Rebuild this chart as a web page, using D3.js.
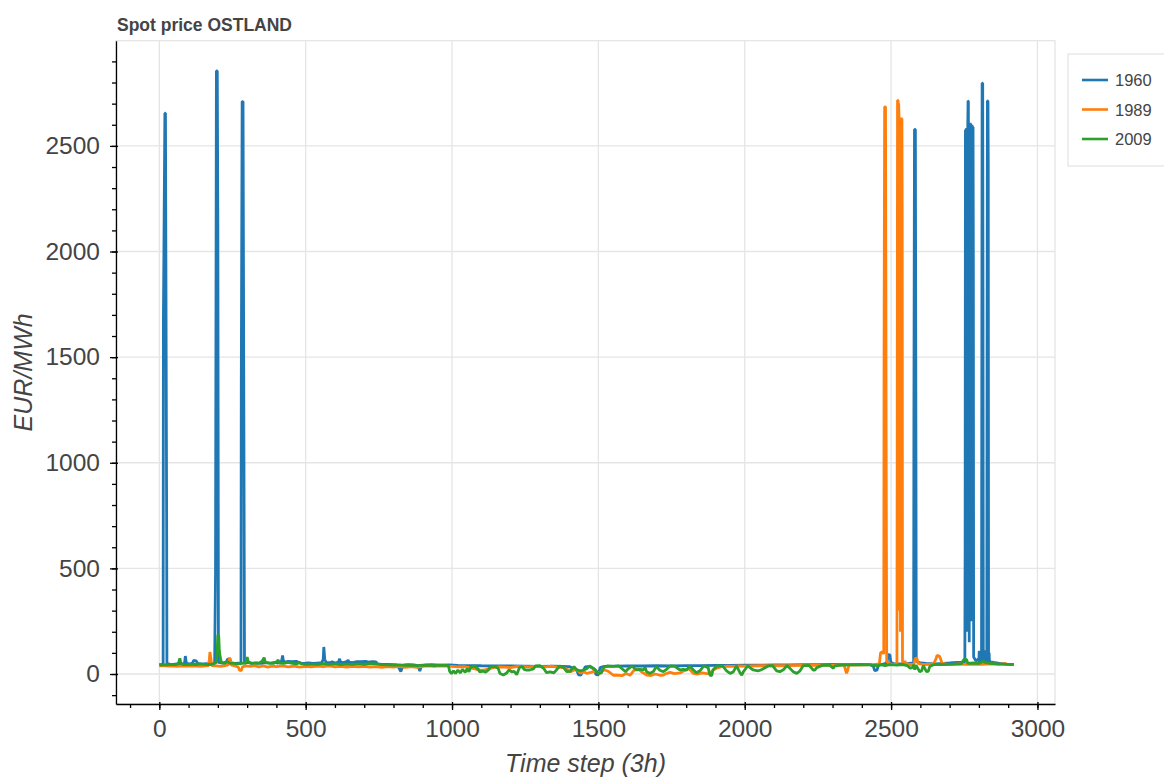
<!DOCTYPE html>
<html>
<head>
<meta charset="utf-8">
<script src="https://cdn.jsdelivr.net/npm/d3@7"></script>
<style>
  body { margin: 0; background: #fff; }
  svg { display: block; font-family: 'Liberation Sans', Arial, Helvetica, sans-serif; }
  .axis .domain, .axis line { stroke: #000; stroke-width: 1.3px; }
  .axis text { fill: #444; font-size: 24.5px; }
  .grid line { stroke: #e5e5e5; stroke-width: 1.3px; }
  .series { fill: none; stroke-width: 2.8px; stroke-linejoin: bevel; }
</style>
</head>
<body>
<svg id="chart" width="1164" height="778"></svg>
<script>
// spot price per 3h time step, [step, EUR/MWh]
const price1960 = [
  [0,44],[8,46],[13,48],[14,1680],[19,2655],[21,2655],[25,750],[26,50],[35,47],[48,45],[60,48],[75,46],[86,50],[89,85],[92,52],
  [104,47],[114,52],[117,64],[126,62],[131,50],[145,47],[160,49],[175,46],[189,50],[192,470],[195,2855],[198,2855],[200,2110],[202,55],
  [215,52],[228,56],[234,72],[238,70],[242,54],[258,50],[270,52],[279,48],[280,1360],[283,2710],[286,2710],[289,1130],[291,52],
  [305,55],[318,50],[332,53],[348,50],[365,54],[380,51],[395,55],[405,52],[418,62],[421,88],[424,62],[432,56],[440,60],[455,58],
  [468,60],[480,52],[495,50],[510,53],[525,50],[540,52],[555,54],[560,70],[562,128],[565,70],[570,55],[585,54],[590,58],[600,52],
  [612,56],[616,72],[619,56],[630,54],[642,60],[645,66],[648,56],[660,54],[672,58],[690,58],[705,60],[715,56],[728,58],[740,57],
  [745,48],[760,46],[780,45],[800,44],[812,43],[818,30],[825,12],[830,30],[836,43],[850,44],[870,43],[884,40],[890,14],[895,38],
  [910,43],[930,44],[960,42],[990,43],[1020,41],[1060,40],[1100,39],[1150,38],[1200,38],[1250,37],[1300,36],[1350,37],[1400,35],
  [1425,22],[1432,-4],[1440,-5],[1448,15],[1455,34],[1470,36],[1485,25],[1492,-3],[1500,-4],[1506,30],[1520,36],[1560,37],[1600,38],
  [1650,38],[1700,39],[1750,38],[1800,40],[1850,40],[1900,41],[1950,41],[2000,42],[2050,42],[2100,43],[2150,43],[2200,44],[2250,44],
  [2300,45],[2350,44],[2400,45],[2430,44],[2440,35],[2444,16],[2452,18],[2456,40],[2470,46],[2482,50],[2487,60],[2489,92],[2496,90],
  [2499,55],[2510,48],[2540,48],[2560,50],[2577,52],[2578,1250],[2580,2578],[2583,2578],[2585,1000],[2586,60],[2600,52],[2620,50],
  [2650,48],[2680,50],[2700,52],[2724,55],[2740,55],[2752,58],
  [2753,600],[2754,2575],[2755,300],[2756,2580],[2757,1200],[2758,2585],[2759,200],[2760,2585],[2761,800],[2762,2590],[2763,2712],
  [2764,2712],[2765,2000],[2766,2605],[2767,150],[2768,2610],[2769,700],[2770,2610],[2771,1500],[2772,2605],[2773,250],[2774,2600],
  [2775,900],[2776,2600],[2777,400],[2778,2595],[2779,1200],[2780,2590],[2781,1970],[2782,80],[2790,62],[2798,70],
  [2800,60],[2801,108],[2802,50],[2803,110],[2804,55],[2805,105],[2806,48],[2807,110],[2808,60],[2809,112],[2810,1500],[2811,2797],
  [2813,2797],[2814,1800],[2815,110],[2816,50],[2817,108],[2818,55],[2819,112],[2820,50],[2821,110],[2822,60],[2823,105],[2824,52],
  [2825,110],[2826,58],[2827,112],[2828,1600],[2829,2713],[2831,2713],[2832,2420],[2833,110],[2834,55],[2835,100],[2836,60],
  [2840,58],[2850,55],[2870,50],[2890,47],[2905,46],[2919,45]
];
const price1989 = [
  [0,38],[15,40],[30,37],[45,39],[60,36],[80,38],[100,37],[120,39],[140,36],[158,38],[168,40],[171,70],[173,104],[176,72],[179,40],
  [195,38],[210,36],[225,40],[236,44],[239,76],[243,70],[246,42],[260,38],[270,32],[274,18],[280,16],[284,34],[295,38],[310,36],
  [325,40],[340,34],[355,38],[370,33],[385,37],[400,35],[420,38],[440,34],[460,37],[480,33],[500,36],[520,34],[540,37],[560,35],
  [580,38],[600,34],[620,36],[640,33],[660,36],[680,34],[700,36],[720,33],[740,35],[760,32],[780,35],[800,33],[820,36],[840,32],
  [860,35],[880,31],[900,36],[920,38],[940,36],[960,38],[980,37],[1000,36],[1020,34],[1040,35],[1060,30],[1085,22],[1095,19],
  [1110,18],[1125,24],[1140,30],[1160,34],[1180,33],[1200,30],[1220,35],[1240,36],[1260,34],[1280,36],[1300,35],[1320,34],[1340,37],
  [1360,33],[1380,30],[1394,22],[1405,10],[1415,18],[1426,19],[1440,4],[1449,12],[1460,3],[1475,8],[1490,15],[1505,3],[1520,20],
  [1535,12],[1551,-6],[1565,-5],[1580,-8],[1595,2],[1608,-6],[1620,15],[1635,25],[1650,8],[1665,-5],[1680,-7],[1695,0],[1710,-6],
  [1722,-5],[1733,3],[1745,8],[1760,2],[1779,5],[1795,18],[1810,25],[1824,3],[1840,0],[1855,5],[1870,2],[1881,3],[1892,19],
  [1905,28],[1920,35],[1940,37],[1960,36],[1980,38],[2000,37],[2050,39],[2100,39],[2150,40],[2200,41],[2250,41],[2300,42],[2340,42],
  [2344,20],[2348,3],[2352,20],[2356,42],[2400,43],[2440,44],[2460,48],[2464,100],[2470,105],[2475,95],[2476,1500],[2478,2685],
  [2481,2685],[2483,1200],[2485,60],[2495,48],[2510,45],[2520,50],
  [2521,1200],[2522,2715],[2524,2715],[2525,400],[2526,2700],[2527,2640],[2528,300],[2529,2635],[2530,1000],[2531,2635],[2532,200],
  [2533,2635],[2534,1500],[2535,2635],[2536,600],[2537,2630],[2538,2200],[2539,60],[2544,55],[2547,62],[2550,48],[2565,45],
  [2578,46],[2582,72],[2588,75],[2592,50],[2610,45],[2630,46],[2645,48],[2653,70],[2657,88],[2665,85],[2670,68],[2674,50],[2690,47],
  [2710,46],[2730,48],[2750,46],[2780,47],[2810,46],[2840,48],[2870,46],[2890,50],[2900,44],[2912,46],[2919,45]
];
const price2009 = [
  [0,42],[12,44],[25,43],[40,46],[55,44],[64,48],[67,58],[70,74],[73,56],[78,46],[95,44],[110,47],[125,45],[140,48],[155,46],
  [170,45],[185,48],[195,55],[198,120],[200,185],[203,180],[205,110],[208,80],[212,55],[222,50],[232,58],[240,52],[255,50],[268,48],
  [282,50],[295,52],[300,80],[304,58],[312,50],[325,52],[340,50],[352,62],[358,78],[362,55],[375,52],[390,50],[402,60],[406,66],
  [410,52],[425,50],[440,55],[455,50],[470,48],[480,56],[485,48],[500,46],[520,47],[540,46],[560,49],[580,46],[600,48],[620,45],
  [640,47],[660,46],[680,48],[700,46],[720,49],[740,48],[760,44],[780,43],[800,42],[820,43],[840,41],[860,42],[880,40],[900,42],
  [920,41],[940,40],[960,42],[980,41],[988,38],[992,12],[998,2],[1005,15],[1012,3],[1020,18],[1028,5],[1036,22],[1045,8],[1052,25],
  [1058,10],[1063,30],[1075,38],[1085,30],[1095,10],[1105,14],[1115,8],[1125,20],[1130,32],[1145,36],[1157,28],[1164,2],[1175,-5],
  [1187,5],[1195,20],[1204,10],[1212,13],[1221,-3],[1230,30],[1240,36],[1246,22],[1255,18],[1265,19],[1278,24],[1285,38],[1300,40],
  [1314,25],[1323,6],[1335,10],[1348,5],[1357,20],[1368,38],[1382,30],[1392,11],[1403,12],[1417,35],[1426,19],[1440,15],[1452,20],
  [1460,25],[1470,38],[1489,20],[1500,3],[1510,5],[1517,30],[1530,38],[1550,36],[1570,38],[1585,20],[1593,11],[1602,25],[1615,37],
  [1630,19],[1642,22],[1653,19],[1660,30],[1665,10],[1676,3],[1688,12],[1698,35],[1710,18],[1722,11],[1733,22],[1745,38],[1760,37],
  [1779,19],[1790,22],[1801,18],[1812,38],[1824,20],[1835,6],[1847,15],[1860,38],[1875,30],[1881,-5],[1887,-8],[1892,20],[1905,38],
  [1925,37],[1938,15],[1950,3],[1961,10],[1972,38],[1984,5],[1990,-5],[1995,10],[2010,38],[2029,19],[2045,15],[2055,19],[2063,25],
  [2080,38],[2095,40],[2109,15],[2120,11],[2132,20],[2145,40],[2166,10],[2178,3],[2189,15],[2200,40],[2220,41],[2234,19],[2240,19],
  [2246,30],[2265,41],[2290,42],[2302,27],[2308,38],[2330,42],[2360,43],[2390,43],[2420,44],[2440,42],[2455,38],[2462,44],[2480,40],
  [2495,44],[2520,42],[2540,44],[2555,40],[2565,28],[2572,30],[2578,44],[2581,20],[2585,42],[2598,11],[2604,14],[2610,40],[2621,11],
  [2627,12],[2632,35],[2645,44],[2660,46],[2680,44],[2700,46],[2720,47],[2740,48],[2747,65],[2752,72],[2758,68],[2762,50],[2780,52],
  [2800,50],[2815,60],[2820,55],[2840,50],[2860,48],[2880,47],[2900,46],[2919,45]
];

const seriesNames = ['1960', '1989', '2009'];
const seriesColors = ['#1f77b4', '#ff7f0e', '#2ca02c'];
const xMajorTicks = [0, 500, 1000, 1500, 2000, 2500, 3000];
const yMajorTicks = [0, 500, 1000, 1500, 2000, 2500];
const xMinorTicks = d3.range(-100, 3001, 100);
const yMinorTicks = d3.range(-100, 2901, 100);

const frame = {left: 116, top: 40.7, right: 1055, bottom: 704};
const svg = d3.select('#chart');

const x = d3.scaleLinear().domain([-148, 3060]).range([frame.left, frame.right]);
const y = d3.scaleLinear().domain([-142, 2998]).range([frame.bottom, frame.top]);
const fmt = d3.format('d');

svg.append('rect').attr('width', 1164).attr('height', 778).attr('fill', '#fff');

// grid + frame outline
const grid = svg.append('g').attr('class', 'grid');
grid.selectAll('.gx').data(xMajorTicks).join('line').attr('class', 'gx')
  .attr('x1', d => x(d)).attr('x2', d => x(d)).attr('y1', frame.top).attr('y2', frame.bottom);
grid.selectAll('.gy').data(yMajorTicks).join('line').attr('class', 'gy')
  .attr('y1', d => y(d)).attr('y2', d => y(d)).attr('x1', frame.left).attr('x2', frame.right);
svg.append('rect')
  .attr('x', frame.left).attr('y', frame.top)
  .attr('width', frame.right - frame.left).attr('height', frame.bottom - frame.top)
  .attr('fill', 'none').attr('stroke', '#e5e5e5').attr('stroke-width', 1.3);

// lines
svg.append('clipPath').attr('id', 'clip').append('rect')
  .attr('x', frame.left).attr('y', frame.top)
  .attr('width', frame.right - frame.left).attr('height', frame.bottom - frame.top);
const line = d3.line().x(d => x(d[0])).y(d => y(d[1]));
const plot = svg.append('g').attr('clip-path', 'url(#clip)');
[price1960, price1989, price2009].forEach((data, i) =>
  plot.append('path').attr('class', 'series').attr('d', line(data)).attr('stroke', seriesColors[i]));

// axes
const xAxis = svg.append('g').attr('class', 'axis').attr('transform', `translate(0,${frame.bottom})`);
xAxis.append('g').call(d3.axisBottom(x).tickValues(xMinorTicks).tickSize(4).tickSizeOuter(0).tickFormat(''))
  .call(g => g.select('.domain').remove());
xAxis.append('g').call(d3.axisBottom(x).tickValues(xMajorTicks).tickSize(6).tickSizeOuter(0).tickPadding(10).tickFormat(fmt))
  .call(g => g.selectAll('.tick line').attr('y1', -2));

const yAxis = svg.append('g').attr('class', 'axis').attr('transform', `translate(${frame.left},0)`);
yAxis.append('g').call(d3.axisLeft(y).tickValues(yMinorTicks).tickSize(4).tickSizeOuter(0).tickFormat(''))
  .call(g => g.select('.domain').remove());
yAxis.append('g').call(d3.axisLeft(y).tickValues(yMajorTicks).tickSize(6).tickSizeOuter(0).tickPadding(10).tickFormat(fmt))
  .call(g => g.selectAll('.tick line').attr('x1', 2));
svg.selectAll('.axis .domain').attr('fill', 'none');

// labels
svg.append('text').attr('x', 117).attr('y', 30.5)
  .attr('font-size', '17.5px').attr('font-weight', 'bold').attr('fill', '#444')
  .text('Spot price OSTLAND');
svg.append('text').attr('x', (frame.left + frame.right) / 2).attr('y', 772)
  .attr('text-anchor', 'middle').attr('font-size', '25px').attr('font-style', 'italic').attr('fill', '#444')
  .text('Time step (3h)');
svg.append('text').attr('transform', `translate(32,${(frame.top + frame.bottom) / 2}) rotate(-90)`)
  .attr('text-anchor', 'middle').attr('font-size', '25px').attr('font-style', 'italic').attr('fill', '#444')
  .text('EUR/MWh');

// legend
const legend = svg.append('g').attr('transform', 'translate(1068,54)');
legend.append('rect').attr('width', 120).attr('height', 112)
  .attr('fill', '#fff').attr('stroke', '#e5e5e5').attr('stroke-width', 1.3);
const item = legend.selectAll('.item').data(seriesNames).join('g')
  .attr('transform', (d, i) => `translate(0,${26 + i * 29.5})`);
item.append('line').attr('x1', 14).attr('x2', 40)
  .attr('stroke', (d, i) => seriesColors[i]).attr('stroke-width', 2.6);
item.append('text').attr('x', 47).attr('y', 6)
  .attr('font-size', '16.5px').attr('fill', '#444').text(d => d);
</script>
</body>
</html>
